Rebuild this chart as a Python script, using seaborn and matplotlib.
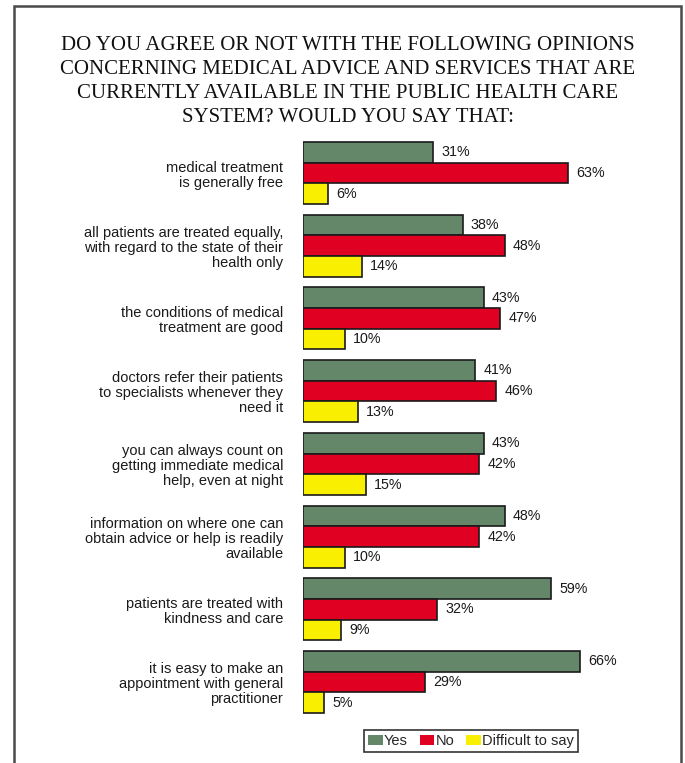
import matplotlib
matplotlib.use("Agg")
import matplotlib.pyplot as plt
import pandas as pd
import seaborn as sns
from matplotlib.patches import Rectangle, Patch

# Survey statements (y categories) and the share of each answer, in percent
statements = [
    "medical treatment\nis generally free",
    "all patients are treated equally,\nwith regard to the state of their\nhealth only",
    "the conditions of medical\ntreatment are good",
    "doctors refer their patients\nto specialists whenever they\nneed it",
    "you can always count on\ngetting immediate medical\nhelp, even at night",
    "information on where one can\nobtain advice or help is readily\navailable",
    "patients are treated with\nkindness and care",
    "it is easy to make an\nappointment with general\npractitioner",
]
responses = ["Yes", "No", "Difficult to say"]
yes_pct = [31, 38, 43, 41, 43, 48, 59, 66]
no_pct = [63, 48, 47, 46, 42, 42, 32, 29]
hard_pct = [6, 14, 10, 13, 15, 10, 9, 5]
title_lines = [
    "DO YOU AGREE OR NOT WITH THE FOLLOWING OPINIONS",
    "CONCERNING MEDICAL ADVICE AND SERVICES THAT ARE",
    "CURRENTLY AVAILABLE IN THE PUBLIC HEALTH CARE",
    "SYSTEM? WOULD YOU SAY THAT:",
]
colors = ["#64876A", "#E00022", "#F8F000"]

rows = []
for resp, vals in zip(responses, [yes_pct, no_pct, hard_pct]):
    for st, v in zip(statements, vals):
        rows.append({"statement": st, "response": resp, "value": v})
df = pd.DataFrame(rows)

sns.set_theme(style="white")
plt.rcParams["font.family"] = ["Liberation Sans", "DejaVu Sans"]

W, H = 685, 763
fig = plt.figure(figsize=(W / 100, H / 100), dpi=100)
fig.patch.set_facecolor("white")

ax = fig.add_axes([303 / W, 1 - 718.3 / H, 336 / W, 581.6 / H])
sns.barplot(
    data=df, x="value", y="statement", hue="response",
    order=statements, hue_order=responses, palette=colors,
    saturation=1, width=0.853, edgecolor="#1a1a1a", linewidth=1.2,
    orient="h", legend=False, errorbar=None, ax=ax,
)
ax.set_xlim(0, 80)
ax.set_ylim(7.5, -0.5)
ax.set_xlabel("")
ax.set_ylabel("")
ax.set_xticks([])
for s in ax.spines.values():
    s.set_visible(False)
ax.tick_params(axis="y", length=0, pad=14.4, labelsize=10.5, colors="#1a1a1a")
for lbl in ax.get_yticklabels():
    lbl.set_linespacing(1.1)

for cont in ax.containers:
    ax.bar_label(cont, fmt="{:.0f}%", padding=6, fontsize=10.3, color="#1a1a1a")

# Title
for i, line in enumerate(title_lines):
    fig.text(347.5 / W, 1 - (46 + 24 * i) / H, line, ha="center", va="center",
             family="Liberation Serif", fontsize=15, color="#111111")

# Legend
handles = [Patch(facecolor=c, edgecolor="none") for c in colors]
leg = fig.legend(
    handles=handles, labels=responses, ncol=3, loc="center",
    bbox_to_anchor=(471 / W, 1 - 741 / H), frameon=True, fancybox=False,
    edgecolor="black", handlelength=1.0, handleheight=0.7, handletextpad=0.1,
    columnspacing=0.8, borderpad=0.25, fontsize=10.5,
)
leg.get_frame().set_linewidth(1.2)

# Outer frame
fig.add_artist(Rectangle((14 / W, -0.05), (681 - 14) / W, 1 - 6 / H + 0.05,
                         transform=fig.transFigure, fill=False,
                         edgecolor="#4a4a4a", linewidth=1.8))

fig.savefig("out.png", dpi=100)
